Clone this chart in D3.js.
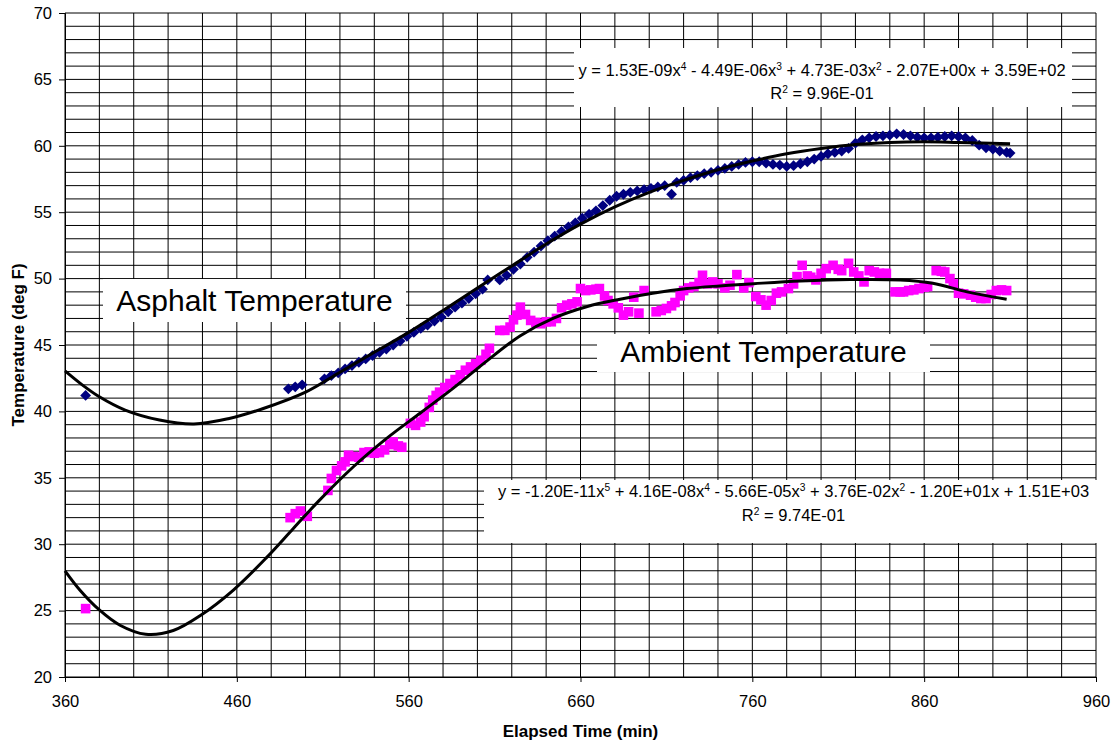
<!DOCTYPE html>
<html>
<head>
<meta charset="utf-8">
<script src="https://cdn.jsdelivr.net/npm/d3@7"></script>
<style>
  html, body { margin: 0; padding: 0; background: #fff; }
  svg { display: block; }
  text { font-family: "Liberation Sans", Arial, Helvetica, sans-serif; white-space: pre; }
</style>
</head>
<body>
<svg id="chart" width="1112" height="740"></svg>
<script>
// ---- Asphalt surface temperature readings (elapsed minutes, deg F) ----
const asphaltTime = [372, 490, 494, 498, 511, 515, 519, 523, 527, 531, 535, 539, 543, 547, 551, 555,
  559, 563, 567, 571, 575, 579, 583, 587, 591, 595, 599, 603, 606,
  613, 617, 621, 625, 629, 633, 637, 641, 645, 649, 653, 657, 661, 665, 669, 673, 677, 681, 685, 689,
  693, 697, 701, 705, 709, 713, 716,
  720, 724, 728, 732, 736, 740, 744, 748, 752, 756, 760, 764, 768, 772, 776, 780, 784, 788, 792, 796,
  800, 804, 808, 812, 816, 820, 824, 828, 832, 836, 840, 844, 848, 852, 856, 860, 864, 868, 872, 876,
  880, 884, 888, 892, 896, 900, 904, 908, 910];
const asphaltTemp = [41.2, 41.7, 41.85, 42.0, 42.45, 42.7, 42.9, 43.2, 43.45, 43.7, 43.95, 44.2, 44.45, 44.7, 45.0, 45.3,
  45.65, 45.95, 46.25, 46.5, 46.8, 47.1, 47.5, 47.85, 48.15, 48.5, 48.85, 49.2, 49.9,
  49.9, 50.25, 50.7, 51.1, 51.6, 52.0, 52.45, 52.85, 53.2, 53.55, 53.9, 54.2, 54.55, 54.85, 55.1, 55.5, 55.9, 56.2, 56.35, 56.5,
  56.6, 56.7, 56.8, 56.9, 57.0, 56.35, 57.25,
  57.4, 57.6, 57.75, 57.9, 58.0, 58.15, 58.3, 58.45, 58.6, 58.75, 58.8, 58.8, 58.7, 58.6, 58.55, 58.45, 58.5, 58.65, 58.8, 59.0,
  59.2, 59.4, 59.5, 59.6, 59.8, 60.2, 60.45, 60.6, 60.7, 60.75, 60.8, 60.9, 60.85, 60.75, 60.65, 60.6, 60.6, 60.65, 60.7, 60.75,
  60.7, 60.6, 60.4, 60.05, 59.85, 59.75, 59.6, 59.5, 59.45];

// ---- Ambient air temperature readings ----
const ambientTime = [372, 491, 494, 497, 501, 513, 515, 518, 521, 523,
  525, 528, 531, 534, 537, 540, 543, 546, 549, 551,
  554, 556, 561, 564, 567, 569, 572, 574, 576, 578,
  581, 584, 587, 590, 593, 596, 599, 602, 605, 607,
  613, 616, 619, 621, 623, 625, 628, 631, 634, 637,
  640, 643, 646, 649, 652, 655, 658, 660, 663, 666,
  669, 671, 674, 676, 679, 682, 685, 688, 691, 694,
  697, 704, 707, 710, 713, 715, 718, 720, 723, 726,
  729, 731, 734, 737, 740, 744, 747, 751, 755, 758,
  762, 765, 768, 771, 774, 777, 781, 784, 786, 789,
  792, 794, 797, 800, 803, 807, 810, 812, 816, 819,
  822, 825, 828, 831, 834, 838, 843, 846, 848, 851,
  854, 857, 860, 862, 867, 870, 872, 875, 877, 880,
  883, 887, 890, 893, 896, 899, 902, 905, 908];
const ambientTemp = [25.15, 32.0, 32.3, 32.5, 32.1, 34.05, 34.95, 35.55, 35.9, 36.2,
  36.7, 36.6, 36.55, 36.9, 36.95, 36.85, 36.9, 37.1, 37.5, 37.7,
  37.4, 37.3, 39.1, 38.95, 39.2, 39.6, 40.3, 40.85, 41.2, 41.45,
  41.8, 42.1, 42.4, 42.75, 43.1, 43.35, 43.6, 43.85, 44.3, 44.75,
  46.1, 46.1, 46.35, 46.9, 47.25, 47.85, 47.3, 46.85, 46.7, 46.6,
  46.75, 46.75, 47.0, 47.8, 48.0, 48.1, 48.25, 49.25, 49.1, 49.15,
  49.2, 49.25, 48.7, 48.35, 48.1, 47.8, 47.25, 47.5, 48.6, 47.4,
  49.1, 47.5, 47.6, 47.75, 47.95, 48.2, 48.7, 49.1, 49.3, 49.4,
  49.7, 50.25, 49.6, 49.75, 49.6, 49.3, 49.5, 50.3, 49.3, 49.7,
  48.65, 48.4, 48.0, 48.35, 48.9, 49.0, 49.25, 49.6, 50.15, 51.0,
  50.2, 50.1, 49.9, 50.4, 50.75, 51.0, 50.7, 50.6, 51.15, 50.5,
  50.2, 49.75, 50.6, 50.5, 50.4, 50.4, 49.0, 49.0, 49.0, 49.1,
  49.15, 49.25, 49.35, 49.4, 50.6, 50.55, 50.5, 50.0, 49.6, 48.9,
  48.85, 48.75, 48.6, 48.5, 48.5, 48.8, 49.1, 49.15, 49.1];

// ---- Polynomial trendlines (sampled along each fitted curve) ----
const asphaltFitTime = [360, 370, 380, 395, 415, 435, 455, 475, 500, 520, 540, 560, 580, 600, 620,
  640, 660, 680, 700, 720, 740, 760, 780, 800, 820, 840, 860, 880, 910];
const asphaltFitTemp = [43.05, 42.0, 41.1, 40.1, 39.35, 39.05, 39.45, 40.2, 41.45, 42.95, 44.45, 45.95, 47.6, 49.3, 50.95,
  52.6, 54.1, 55.4, 56.5, 57.4, 58.2, 58.85, 59.4, 59.8, 60.1, 60.25, 60.3, 60.25, 60.15];
const ambientFitTime = [360, 369, 380, 392, 407, 423, 439, 458, 477, 493, 508, 528, 547, 567, 586,
  605, 625, 644, 664, 683, 702, 722, 741, 761, 788, 817, 846, 865, 885, 908];
const ambientFitTemp = [28.0, 26.5, 25.05, 23.9, 23.22, 23.5, 24.65, 26.55, 28.95, 31.2, 33.3, 35.85, 37.95, 39.9, 41.75,
  43.75, 45.7, 47.0, 47.9, 48.45, 48.9, 49.25, 49.45, 49.62, 49.82, 49.93, 49.9, 49.65, 49.0, 48.45];

// ---- Axis ticks ----
const xTicks = [360, 460, 560, 660, 760, 860, 960];
const yTicks = [20, 25, 30, 35, 40, 45, 50, 55, 60, 65, 70];
const xGridStep = 20;
const yGridStep = 1;

const FONT = '"Liberation Sans", Arial, Helvetica, sans-serif';
const svg = d3.select('#chart');

const x = d3.scaleLinear().domain([360, 960]).range([65, 1096]);
const y = d3.scaleLinear().domain([20, 70]).range([677, 13]);

// Grid
const grid = svg.append('g').attr('stroke', '#000').attr('stroke-width', 1);
grid.selectAll('line.vgrid')
  .data(d3.range(x.domain()[0], x.domain()[1] + 1, xGridStep))
  .join('line').attr('class', 'vgrid')
  .attr('x1', d => x(d)).attr('x2', d => x(d))
  .attr('y1', y.range()[0]).attr('y2', y.range()[1]);
grid.selectAll('line.hgrid')
  .data(d3.range(y.domain()[0], y.domain()[1] + 1, yGridStep))
  .join('line').attr('class', 'hgrid')
  .attr('x1', x.range()[0]).attr('x2', x.range()[1])
  .attr('y1', d => y(d)).attr('y2', d => y(d));

// Axes
const yAxis = d3.axisLeft(y).tickValues(yTicks).tickSize(6).tickPadding(7).tickFormat(d3.format('d'));
svg.append('g')
  .attr('transform', `translate(${x.range()[0]},0)`)
  .call(yAxis)
  .attr('font-family', FONT).attr('font-size', 16.5)
  .call(g => g.selectAll('text').attr('fill', '#000'))
  .call(g => g.selectAll('line,path').attr('stroke', '#000'));

const xAxis = d3.axisBottom(x).tickValues(xTicks).tickSize(5).tickPadding(13).tickFormat(d3.format('d'));
svg.append('g')
  .attr('transform', `translate(0,${y.range()[0]})`)
  .call(xAxis)
  .attr('font-family', FONT).attr('font-size', 16.5)
  .call(g => g.selectAll('text').attr('fill', '#000'))
  .call(g => g.selectAll('line,path').attr('stroke', '#000'));

// Axis titles
svg.append('text')
  .attr('x', (x.range()[0] + x.range()[1]) / 2).attr('y', 737)
  .attr('text-anchor', 'middle').attr('font-weight', 'bold').attr('font-size', 17)
  .text('Elapsed Time (min)');
svg.append('text')
  .attr('transform', `translate(24,${(y.range()[0] + y.range()[1]) / 2}) rotate(-90)`)
  .attr('text-anchor', 'middle').attr('font-weight', 'bold').attr('font-size', 17)
  .text('Temperature (deg F)');

// Markers: asphalt as navy diamonds, ambient as magenta squares
const asphalt = d3.zip(asphaltTime, asphaltTemp);
const ambient = d3.zip(ambientTime, ambientTemp);
const dr = 5.4;
svg.append('g').attr('fill', '#000080')
  .selectAll('path').data(asphalt).join('path')
  .attr('d', d => {
    const cx = x(d[0]), cy = y(d[1]);
    return `M${cx},${cy - dr}L${cx + dr},${cy}L${cx},${cy + dr}L${cx - dr},${cy}Z`;
  });
const sq = 9.6;
svg.append('g').attr('fill', '#FF00FF')
  .selectAll('rect').data(ambient).join('rect')
  .attr('x', d => x(d[0]) - sq / 2).attr('y', d => y(d[1]) - sq / 2)
  .attr('width', sq).attr('height', sq);

// Trendlines
const fitLine = d3.line().x(d => x(d[0])).y(d => y(d[1])).curve(d3.curveCatmullRom.alpha(0.5));
svg.append('path').datum(d3.zip(asphaltFitTime, asphaltFitTemp))
  .attr('d', fitLine).attr('fill', 'none').attr('stroke', '#000').attr('stroke-width', 3);
svg.append('path').datum(d3.zip(ambientFitTime, ambientFitTemp))
  .attr('d', fitLine).attr('fill', 'none').attr('stroke', '#000').attr('stroke-width', 3);

// Text with superscripts
function richLine(g, parts, cx, baseline, size) {
  const t = g.append('text').attr('x', cx).attr('y', baseline)
    .attr('text-anchor', 'middle').attr('font-size', size).attr('fill', '#000');
  let up = false;
  parts.forEach(([s, sup]) => {
    const ts = t.append('tspan').text(s);
    if (sup && !up) { ts.attr('dy', -6.5).attr('font-size', size * 0.62); up = true; }
    else if (!sup && up) { ts.attr('dy', 6.5); up = false; }
    else if (sup) { ts.attr('font-size', size * 0.62); }
  });
}

function box(x0, y0, x1, y1) {
  svg.append('rect').attr('x', x0).attr('y', y0).attr('width', x1 - x0).attr('height', y1 - y0).attr('fill', '#fff');
}

// Asphalt equation
box(574, 48, 1072, 107);
richLine(svg, [['y = 1.53E-09x'], ['4', 1], [' - 4.49E-06x'], ['3', 1], [' + 4.73E-03x'], ['2', 1],
  [' - 2.07E+00x + 3.59E+02']], 822, 76, 16.5);
richLine(svg, [['R'], ['2', 1], [' = 9.96E-01']], 822, 99, 16.5);

// Ambient equation
box(484, 480, 1103, 543);
richLine(svg, [['y = -1.20E-11x'], ['5', 1], [' + 4.16E-08x'], ['4', 1], [' - 5.66E-05x'], ['3', 1],
  [' + 3.76E-02x'], ['2', 1], [' - 1.20E+01x + 1.51E+03']], 793.5, 497, 16.5);
richLine(svg, [['R'], ['2', 1], [' = 9.74E-01']], 793.5, 521, 16.5);

// Series labels
box(103, 279, 406, 322);
svg.append('text').attr('x', 254.5).attr('y', 311).attr('text-anchor', 'middle')
  .attr('font-size', 30).attr('fill', '#000').text('Asphalt Temperature');
box(597, 334, 930, 372);
svg.append('text').attr('x', 763.5).attr('y', 362).attr('text-anchor', 'middle')
  .attr('font-size', 30).attr('fill', '#000').text('Ambient Temperature');
</script>
</body>
</html>
